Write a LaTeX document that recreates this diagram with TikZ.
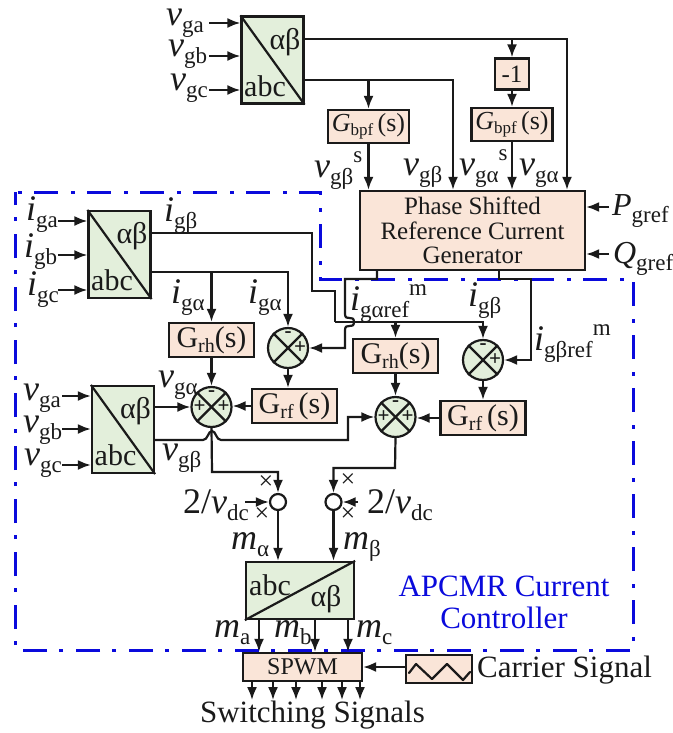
\documentclass[tikz,border=0pt]{standalone}
\usepackage{fontspec}
\usepackage{xcolor}
\usepackage{tikz}
\usetikzlibrary{arrows.meta,positioning,shapes,calc}
\setmainfont{Liberation Serif}

\definecolor{peach}{HTML}{FAE5D8}
\definecolor{leaf}{HTML}{E3EFDB}
\definecolor{ink}{HTML}{1A1A1A}
\definecolor{ctrlblue}{HTML}{0A0ADC}

\newcommand{\fsz}[1]{\fontsize{#1}{#1}\selectfont}
\newcommand{\sig}[3]{\textit{#1}\raisebox{-7pt}{\fsz{23}#2}\raisebox{15pt}{\fsz{23}#3}}
\newcommand{\tf}[3]{#1\raisebox{-5pt}{\fsz{20}#2}#3(s)}

\begin{document}
\begin{tikzpicture}[x=1pt, y=-1pt, >={Latex[length=13pt,width=10pt]}, line width=2.2pt, ink]
    \tikzstyle{conv} = [draw, fill=leaf, inner sep=0pt, minimum width=62pt, minimum height=87pt]
    \tikzstyle{block} = [draw, fill=peach, inner sep=0pt, minimum width=85pt, minimum height=34pt, font=\fsz{30}]
    \tikzstyle{bpf} = [draw, fill=peach, inner sep=0pt, minimum width=81pt, minimum height=33pt, font=\fsz{26}]
    \tikzstyle{junction} = [draw, circle, fill=leaf, inner sep=0pt, minimum size=40pt]
    \tikzstyle{product} = [draw, circle, fill=white, inner sep=0pt, minimum size=16pt]
    \tikzstyle{sign} = [inner sep=0pt, font=\bfseries\fsz{21}]
    \tikzstyle{convtext} = [inner sep=0pt, font=\fsz{30}]
    \tikzstyle{sigtext} = [anchor=base west, inner sep=0pt, font=\fsz{36}]
    \tikzstyle{plain} = [anchor=base west, inner sep=0pt, font=\fsz{31}]

    \useasboundingbox (0,0) rectangle (672,733);

    % controller boundary
    \draw [ctrlblue, line width=3pt, dash pattern=on 24pt off 13pt on 4pt off 12pt, dash phase=34pt]
        (15,192) -- (320,192) -- (320,279) -- (633,279) -- (633,650) -- (15,650) -- cycle;

    % blocks
    \node [conv] (convvg) at (272.5,60) {};
    \node [bpf] (gbpfl) at (368.5,126.5) {\textit{G}\raisebox{-4pt}{\fsz{17}bpf}\,(s)};
    \node [draw, fill=peach, inner sep=0pt, minimum width=34pt, minimum height=31pt, font=\fsz{25}] (negone) at (512,74) {-1};
    \node [bpf, below of=negone, node distance=50.5pt] (gbpfr) {\textit{G}\raisebox{-4pt}{\fsz{17}bpf}\,(s)};
    \node [draw, fill=peach, inner sep=0pt, minimum width=225pt, minimum height=79pt, align=center, font=\fsz{25}] (psrg) at (472.5,230.5)
        {Phase Shifted\\[-.5pt]Reference Current\\[-.5pt]Generator};

    \node [conv] (convig) at (119.5,254.5) {};
    \node [block] (grhl) at (211.5,340) {\tf{G}{rh}{}};
    \node [junction] (multl) at (288,348) {};
    \node [block, below of=multl, node distance=58pt, xshift=6.5pt] (grfl) {\tf{G}{rf}{\,}};
    \node [junction, below of=grhl, node distance=67pt] (sumal) {};
    \node [conv] (convvl) at (123,429.5) {};

    \node [block] (grhr) at (395.5,356) {\tf{G}{rh}{}};
    \node [junction, below of=grhr, node distance=61pt] (sumr) {};
    \node [junction] (multr) at (483,360) {};
    \node [block, below of=multr, node distance=58pt] (grfr) {\tf{G}{rf}{\,}};

    \node [product] (prodl) at (278,502) {};
    \node [product, right of=prodl, node distance=55.5pt] (prodr) {};
    \node [draw, fill=leaf, inner sep=0pt, minimum width=108pt, minimum height=57pt] (convm) at (300,590.5) {};
    \node [draw, fill=peach, inner sep=0pt, minimum width=119pt, minimum height=28pt, font=\fsz{24}] (spwm) at (302.5,667) {SPWM};
    \node [draw, fill=peach, inner sep=0pt, minimum width=66pt, minimum height=28pt] (carrier) at (439,669) {};
    \draw [line cap=round, line join=round] (409,673) -- (416,664) -- (432,679) -- (447,664) -- (463,680) -- (470,672);

    % block insides
    \foreach \c in {convvg,convig,convvl} {
        \draw (\c.north west) -- (\c.south east);
        \node [convtext, xshift=12.5pt, yshift=18pt] (\c ab) at (\c) {αβ};
        \node [convtext, xshift=-7.5pt, yshift=-26pt] (\c abc) at (\c) {abc};
    }
    \draw (convm.south west) -- (convm.north east);
    \node [convtext, xshift=-30pt, yshift=5pt] (convmabc) at (convm) {abc};
    \node [convtext, xshift=26pt, yshift=-9pt] (convmab) at (convm) {αβ};

    \foreach \s in {multl,multr,sumal,sumr} {
        \draw (\s.north west) -- (\s.south east);
        \draw (\s.north east) -- (\s.south west);
        \node [sign, above of=\s, node distance=13pt] (\s m) {-};
        \node [sign, right of=\s, node distance=12pt] (\s p) {+};
    }
    \node [sign, left of=sumal, node distance=12pt] (sumalq) {+};
    \node [sign, left of=sumr, node distance=12pt] (sumrq) {+};

    % grid voltage inputs
    \foreach \y/\n in {23/a,56/b,90/c} {
        \draw [->] (209,\y) -- (convvg.west |- 0,\y);
    }
    \foreach \y/\n in {221/a,255/b,290/c} {
        \draw [->] (58,\y) -- (convig.west |- 0,\y);
    }
    \foreach \y/\n in {396/a,429/b,465/c} {
        \draw [->] (62,\y) -- (convvl.west |- 0,\y);
    }

    % generator inputs
    \coordinate (alphaturn) at (567,39);
    \coordinate (betaturn) at (453,80);
    \draw [->] (convvg.east |- alphaturn) -- (alphaturn) -- (alphaturn |- psrg.north);
    \draw [->] (negone.north |- alphaturn) -- (negone);
    \draw [->] (negone) -- (gbpfr);
    \draw [->] (convvg.east |- betaturn) -- (betaturn) -- (betaturn |- psrg.north);
    \draw [->] (gbpfl.north |- betaturn) -- (gbpfl);
    \draw [->] (gbpfl.south) -- (gbpfl.south |- psrg.north);
    \draw [->] (gbpfr.south) -- (gbpfr.south |- psrg.north);
    \draw [->] (609,207) -- (psrg.east |- 0,207);
    \draw [->] (609,254) -- (psrg.east |- 0,254);

    % generator outputs
    \coordinate (arefturn) at (345,279);
    \draw [->] (psrg.south -| 377,0) |- (arefturn) -- (345,314)
        .. controls (345,322) and (354,314) .. (354,322)
        .. controls (354,330) and (345,322) .. (345,330)
        |- (multl.east);
    \draw [->] (psrg.south -| 499,0) |- (531,279) |- (multr.east);

    % grid current
    \coordinate (ibturn) at (335,322);
    \draw (convig.east |- 0,233) -| (312,291) -| (ibturn);
    \draw [->] (ibturn) -| (multr.north);
    \draw [->] (grhr.north |- ibturn) -- (grhr.north);
    \coordinate (iaturn) at (288,272);
    \draw [->] (convig.east |- iaturn) -- (iaturn) -- (multl.north);
    \draw [->] (grhl.north |- iaturn) -- (grhl.north);

    % loop blocks
    \draw [->] (multl) -- (multl |- grfl.north);
    \draw [->] (multr) -- (grfr);
    \draw [->] (grhl) -- (sumal);
    \draw [->] (grhr) -- (sumr);
    \draw [->] (grfl.west) -- (sumal.east |- grfl.west);
    \draw [->] (grfr.west) -- (sumr.east |- grfr.west);
    \draw [->] (convvl.east |- sumal) -- (sumal.west);
    \draw [->] (convvl.east |- 0,440) -- (203,440)
        .. controls (208,440) and (208,431) .. (212,431)
        .. controls (216,431) and (216,440) .. (221,440)
        -- (348,440) |- (sumr.west);

    % modulation
    \draw [->] (sumal.south) -- (212,472) -| (prodl.north);
    \draw [->] (sumr.south) -- (395,468) -| (prodr.north);
    \draw [->] (245,502) -- (prodl.west);
    \draw [->] (358,502) -- (prodr.east);
    \draw [->] (prodl.south) -- (prodl.south |- convm.north);
    \draw [->] (prodr.south) -- (prodr.south |- convm.north);
    \foreach \x in {259,315,348} {
        \draw [->] (convm.south -| \x,0) -- (spwm.north -| \x,0);
    }
    \foreach \x in {252,273,296,322,342,360} {
        \draw [->] (spwm.south -| \x,0) -- ++(0,18);
    }
    \draw [->] (carrier.west |- 0,667) -- (spwm.east |- 0,667);

    % labels
    \node [sigtext] (lvga) at (165,26) {\sig{v}{ga}{}};
    \node [sigtext] (lvgb) at (167,57) {\sig{v}{gb}{}};
    \node [sigtext] (lvgc) at (169,91) {\sig{v}{gc}{}};
    \node [sigtext] (lvbs) at (313,177) {\sig{v}{gβ}{s}};
    \node [sigtext] (lvb) at (402,175) {\sig{v}{gβ}{}};
    \node [sigtext] (lvas) at (458,175) {\sig{v}{gα}{s}};
    \node [sigtext] (lva) at (518,175) {\sig{v}{gα}{}};
    \node [sigtext, font=\fsz{32}] (lpref) at (611,215) {\sig{P}{gref}{}};
    \node [sigtext, font=\fsz{32}] (lqref) at (612,263) {\sig{Q}{gref}{}};

    \node [sigtext] (liga) at (25,220) {\sig{i}{ga}{}};
    \node [sigtext] (ligb) at (23,257) {\sig{i}{gb}{}};
    \node [sigtext] (ligc) at (26,295) {\sig{i}{gc}{}};
    \node [sigtext] (libt) at (163,221) {\sig{i}{gβ}{}};
    \node [sigtext] (lial) at (170,303) {\sig{i}{gα}{}};
    \node [sigtext] (liar) at (247,303) {\sig{i}{gα}{}};
    \node [sigtext] (liaref) at (349,310) {\sig{i}{gαref}{m}};
    \node [sigtext] (libr) at (467,306) {\sig{i}{gβ}{}};
    \node [sigtext] (libref) at (533,350) {\sig{i}{gβref}{m}};

    \node [sigtext] (lwga) at (22,400) {\sig{v}{ga}{}};
    \node [sigtext] (lwgb) at (22,432) {\sig{v}{gb}{}};
    \node [sigtext] (lwgc) at (23,465) {\sig{v}{gc}{}};
    \node [sigtext] (lwa) at (157,387) {\sig{v}{gα}{}};
    \node [sigtext] (lwb) at (161,460) {\sig{v}{gβ}{}};

    \node [sigtext] (ldcl) at (182,513) {2/\sig{v}{dc}{}};
    \node [sigtext] (ldcr) at (366,513) {2/\sig{v}{dc}{}};
    \foreach \x/\y/\n in {266/483/a,262/515/b,348/481/c,348/515/d} {
        \node [inner sep=0pt, font=\fsz{26}] (times\n) at (\x,\y) {×};
    }
    \node [sigtext] (lma) at (230,549) {\sig{m}{α}{}};
    \node [sigtext] (lmb) at (342,549) {\sig{m}{β}{}};
    \node [sigtext] (lmpa) at (213,637) {\sig{m}{a}{}};
    \node [sigtext] (lmpb) at (273,637) {\sig{m}{b}{}};
    \node [sigtext] (lmpc) at (355,637) {\sig{m}{c}{}};

    \node [plain] (lcarrier) at (476,677) {Carrier Signal};
    \node [plain] (lswitch) at (199,722) {Switching Signals};
    \node [inner sep=0pt, align=center, text=ctrlblue, font=\fsz{31}] (lctrl) at (504,602) {APCMR Current\\[1pt]Controller};
\end{tikzpicture}
\end{document}
